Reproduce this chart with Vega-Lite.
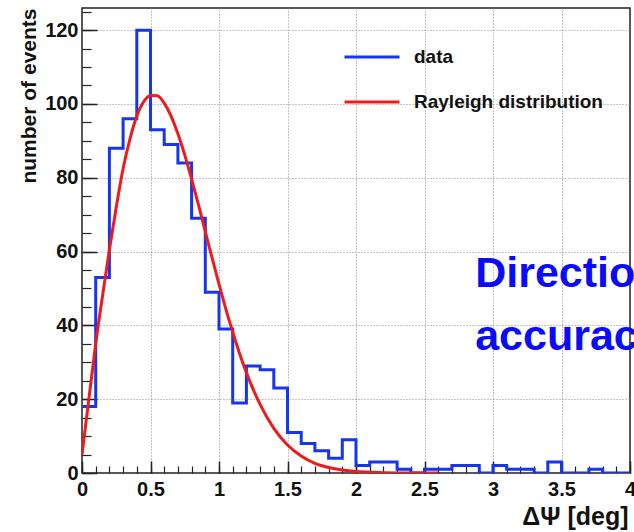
{
  "$schema": "https://vega.github.io/schema/vega-lite/v6.json",
  "width": 548,
  "height": 465,
  "autosize": {"type": "none"},
  "padding": {"left": 82, "top": 8, "right": 4, "bottom": 59},
  "background": "white",
  "config": {
    "view": {"stroke": "#222222", "strokeWidth": 1.5},
    "font": "Liberation Sans"
  },
  "datasets": {
    "hist": [
      {"psi": 0.0, "events": 18}, {"psi": 0.1, "events": 53}, {"psi": 0.2, "events": 88}, {"psi": 0.3, "events": 96},
      {"psi": 0.4, "events": 120}, {"psi": 0.5, "events": 93}, {"psi": 0.6, "events": 89}, {"psi": 0.7, "events": 84},
      {"psi": 0.8, "events": 69}, {"psi": 0.9, "events": 49}, {"psi": 1.0, "events": 39}, {"psi": 1.1, "events": 19},
      {"psi": 1.2, "events": 29}, {"psi": 1.3, "events": 28}, {"psi": 1.4, "events": 23}, {"psi": 1.5, "events": 11},
      {"psi": 1.6, "events": 8}, {"psi": 1.7, "events": 6}, {"psi": 1.8, "events": 4}, {"psi": 1.9, "events": 9},
      {"psi": 2.0, "events": 2}, {"psi": 2.1, "events": 3}, {"psi": 2.2, "events": 3}, {"psi": 2.3, "events": 1},
      {"psi": 2.4, "events": 0}, {"psi": 2.5, "events": 1}, {"psi": 2.6, "events": 1}, {"psi": 2.7, "events": 2},
      {"psi": 2.8, "events": 2}, {"psi": 2.9, "events": 0}, {"psi": 3.0, "events": 2}, {"psi": 3.1, "events": 1},
      {"psi": 3.2, "events": 1}, {"psi": 3.3, "events": 0}, {"psi": 3.4, "events": 3}, {"psi": 3.5, "events": 0},
      {"psi": 3.6, "events": 0}, {"psi": 3.7, "events": 1}, {"psi": 3.8, "events": 0}, {"psi": 3.9, "events": 0},
      {"psi": 4.0, "events": 0}
    ],
    "curve": [
      {"psi": 0.0, "events": 5}, {"psi": 0.05, "events": 20}, {"psi": 0.1, "events": 35}, {"psi": 0.15, "events": 48},
      {"psi": 0.2, "events": 60.5}, {"psi": 0.25, "events": 72}, {"psi": 0.3, "events": 82.5}, {"psi": 0.35, "events": 90.5},
      {"psi": 0.4, "events": 96.7}, {"psi": 0.45, "events": 100.6}, {"psi": 0.5, "events": 102.3}, {"psi": 0.55, "events": 102.2},
      {"psi": 0.6, "events": 100.2}, {"psi": 0.65, "events": 96.7}, {"psi": 0.7, "events": 91.9}, {"psi": 0.75, "events": 86.2},
      {"psi": 0.8, "events": 79.6}, {"psi": 0.85, "events": 72.7}, {"psi": 0.9, "events": 65.4}, {"psi": 0.95, "events": 58.2},
      {"psi": 1.0, "events": 51.2}, {"psi": 1.05, "events": 44.4}, {"psi": 1.1, "events": 38.2}, {"psi": 1.15, "events": 32.4},
      {"psi": 1.2, "events": 27.2}, {"psi": 1.3, "events": 18.6}, {"psi": 1.4, "events": 12.1}, {"psi": 1.5, "events": 7.6},
      {"psi": 1.6, "events": 4.6}, {"psi": 1.7, "events": 2.6}, {"psi": 1.8, "events": 1.5}, {"psi": 1.9, "events": 0.8},
      {"psi": 2.0, "events": 0.4}, {"psi": 2.2, "events": 0.1}, {"psi": 2.4, "events": 0}, {"psi": 2.6, "events": 0}
    ],
    "note": [
      {"psi": 2.87, "events": 50.4, "label": "Direction"},
      {"psi": 2.87, "events": 33.3, "label": "accuracy"}
    ]
  },
  "layer": [
    {
      "data": {"name": "note"},
      "mark": {"type": "text", "align": "left", "baseline": "alphabetic", "font": "Liberation Sans", "fontSize": 43, "fontWeight": "bold", "color": "#0a0aff"},
      "encoding": {
        "x": {
          "field": "psi", "type": "quantitative",
          "scale": {"domain": [0, 4], "nice": false, "zero": false},
          "axis": {
            "orient": "bottom", "title": null, "labels": false, "ticks": false, "domain": false,
            "values": [0.5, 1, 1.5, 2, 2.5, 3, 3.5],
            "grid": true, "gridDash": [1, 2], "gridColor": "#8a8a8a", "gridWidth": 1
          }
        },
        "y": {
          "field": "events", "type": "quantitative",
          "scale": {"domain": [0, 126], "nice": false},
          "axis": {
            "orient": "left", "title": null, "labels": false, "ticks": false, "domain": false,
            "values": [20, 40, 60, 80, 100, 120],
            "grid": true, "gridDash": [1, 2], "gridColor": "#8a8a8a", "gridWidth": 1
          }
        },
        "text": {"field": "label"}
      }
    },
    {
      "data": {"name": "hist"},
      "mark": {"type": "line", "interpolate": "step-after", "strokeWidth": 3, "clip": true},
      "encoding": {
        "x": {
          "field": "psi", "type": "quantitative",
          "axis": {
            "orient": "bottom", "offset": -12,
            "values": [0, 0.5, 1, 1.5, 2, 2.5, 3, 3.5, 4],
            "format": "~g",
            "title": "ΔΨ [deg]",
            "titleFont": "Liberation Sans", "titleFontSize": 25, "titleFontWeight": "bold", "titleColor": "#111111",
            "titleAnchor": "end", "titleAlign": "right", "titleBaseline": "alphabetic",
            "titleX": 546, "titleY": 63,
            "labelFont": "Liberation Sans", "labelFontSize": 20, "labelFontWeight": "bold", "labelColor": "#111111",
            "labelPadding": 6, "labelFlush": false, "labelOverlap": false,
            "tickSize": 12, "tickColor": "#222222", "tickWidth": 1.5,
            "domain": false, "grid": false
          }
        },
        "y": {
          "field": "events", "type": "quantitative",
          "axis": {
            "orient": "left", "offset": -15,
            "values": [0, 20, 40, 60, 80, 100, 120],
            "format": "d",
            "title": "number of events",
            "titleFont": "Liberation Sans", "titleFontSize": 21, "titleFontWeight": "bold", "titleColor": "#111111",
            "titleAngle": 270, "titleAnchor": "end", "titleAlign": "right", "titleBaseline": "alphabetic",
            "titleX": -62, "titleY": 0,
            "labelFont": "Liberation Sans", "labelFontSize": 20, "labelFontWeight": "bold", "labelColor": "#111111",
            "labelPadding": 4, "labelFlush": false, "labelOverlap": false,
            "tickSize": 15, "tickColor": "#222222", "tickWidth": 1.5,
            "domain": false, "grid": false
          }
        },
        "color": {
          "datum": "data",
          "scale": {"domain": ["data", "Rayleigh distribution"], "range": ["#1535f0", "#ee1b1b"]},
          "legend": {
            "title": null, "orient": "none", "legendX": 261, "legendY": 20,
            "symbolType": "stroke", "symbolSize": 3025, "symbolStrokeWidth": 3,
            "labelFont": "Liberation Sans", "labelFontSize": 19, "labelFontWeight": "bold", "labelColor": "#111111",
            "labelLimit": 400,
            "labelOffset": 13, "rowPadding": 6, "padding": 0, "labelBaseline": "middle"
          }
        }
      }
    },
    {
      "data": {"name": "curve"},
      "mark": {"type": "line", "interpolate": "monotone", "strokeWidth": 3, "clip": true},
      "encoding": {
        "x": {
          "field": "psi", "type": "quantitative",
          "axis": {
            "orient": "bottom", "offset": -7, "title": null, "labels": false, "grid": false, "domain": false,
            "values": [0, 0.1, 0.2, 0.3, 0.4, 0.5, 0.6, 0.7, 0.8, 0.9, 1, 1.1, 1.2, 1.3, 1.4, 1.5, 1.6, 1.7, 1.8, 1.9, 2, 2.1, 2.2, 2.3, 2.4, 2.5, 2.6, 2.7, 2.8, 2.9, 3, 3.1, 3.2, 3.3, 3.4, 3.5, 3.6, 3.7, 3.8, 3.9, 4],
            "tickSize": 7, "tickColor": "#222222", "tickWidth": 1.2
          }
        },
        "y": {
          "field": "events", "type": "quantitative",
          "axis": {
            "orient": "left", "offset": -9, "title": null, "labels": false, "grid": false, "domain": false,
            "values": [0, 5, 10, 15, 20, 25, 30, 35, 40, 45, 50, 55, 60, 65, 70, 75, 80, 85, 90, 95, 100, 105, 110, 115, 120, 125],
            "tickSize": 9, "tickColor": "#222222", "tickWidth": 1.2
          }
        },
        "color": {"datum": "Rayleigh distribution"}
      }
    }
  ],
  "resolve": {"axis": {"x": "independent", "y": "independent"}}
}
